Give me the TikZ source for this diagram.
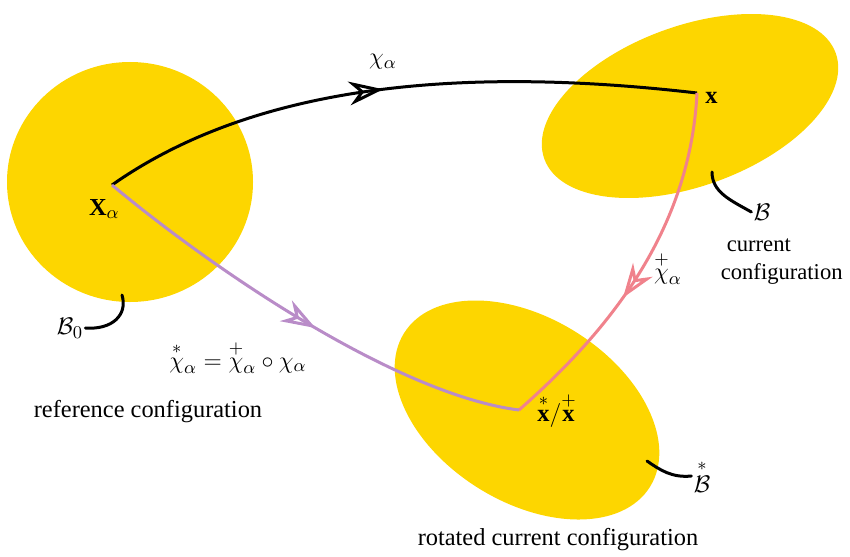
\documentclass[tikz,border=0pt]{standalone}
\usepackage{amsmath,amssymb}
\usepackage{fontspec}
\setmainfont{Liberation Serif}
\usetikzlibrary{arrows.meta,decorations.markings}

\definecolor{blob}{RGB}{253,214,0}
\definecolor{pinkline}{RGB}{240,130,140}
\definecolor{purpline}{RGB}{185,140,200}

\tikzset{
  body/.style={fill=blob},
  midarrow/.style={postaction={decorate}, decoration={markings,
      mark=at position #1 with {\arrow{Stealth[open, length=6mm, width=4.2mm, line width=1.5pt]}}}},
  mapline/.style={line width=1.5pt},
  hook/.style={line width=1.5pt, line cap=round},
  lbl/.style={font=\fontsize{12.2}{14.5}\selectfont, inner sep=1pt}
}

\begin{document}
\begin{tikzpicture}[x=0.5pt, y=-0.5pt]
	\useasboundingbox (0,0) rectangle (850,556);
	% bodies
	\fill[body] (130,182) ellipse (123 and 120);
	\fill[body, rotate around={20:(690,106)}] (690,106) ellipse (155 and 80);
	\fill[body, rotate around={-32:(527,410)}] (527,410) ellipse (145 and 92);
	% material points
	\coordinate (Xa) at (112,185);
	\coordinate (xc) at (697,93);
	\coordinate (xr) at (519,410);
	\node[lbl, anchor=east] (Xalbl) at (122,209) {$\mathbf{X}_\alpha$};
	\node[lbl, anchor=west] (xlbl) at (703,98) {$\mathbf{x}$};
	\node[lbl, anchor=west] (xrlbl) at (535,410) {$\overset{*}{\mathbf{x}}/\overset{+}{\mathbf{x}}$};
	% maps
	\draw[mapline, midarrow=0.48] (Xa) .. controls (240,95) and (430,62) .. (xc);
	\draw[mapline, pinkline, midarrow=0.59] (xc) .. controls (690,230) and (610,330) .. (xr);
	\draw[mapline, purpline, midarrow=0.53] (Xa) .. controls (220,275) and (400,395) .. (xr);
	\node[lbl] (chi) at (383,62) {$\chi_\alpha$};
	\node[lbl] (chip) at (668,268) {$\overset{+}{\chi}_\alpha$};
	\node[lbl] (chis) at (238,357) {$\overset{*}{\chi}_\alpha=\overset{+}{\chi}_\alpha\circ\chi_\alpha$};
	% body labels
	\node[lbl] (B) at (762,212) {$\mathcal{B}$};
	\node[lbl] (B0) at (70,328) {$\mathcal{B}_0$};
	\node[lbl] (Bs) at (702,476) {$\overset{*}{\mathcal{B}}$};
	\coordinate (Bh) at (712,172);
	\coordinate (B0h) at (122,295);
	\coordinate (Bsh) at (647,461);
	\draw[hook] (Bh) .. controls (712,192) and (730,200) .. (B.west);
	\draw[hook] (B0h) .. controls (128,315) and (112,330) .. (B0.east);
	\draw[hook] (Bsh) .. controls (660,470) and (672,478) .. (Bs.west);
	% captions
	\node[lbl, font=\fontsize{11.3}{14}\selectfont, align=left, anchor=north east] (cur) at (845,236) {\hspace*{3pt}current\\configuration};
	\node[lbl] (ref) at (148,412) {reference configuration};
	\node[lbl] (rot) at (558,540) {rotated current configuration};
\end{tikzpicture}
\end{document}
